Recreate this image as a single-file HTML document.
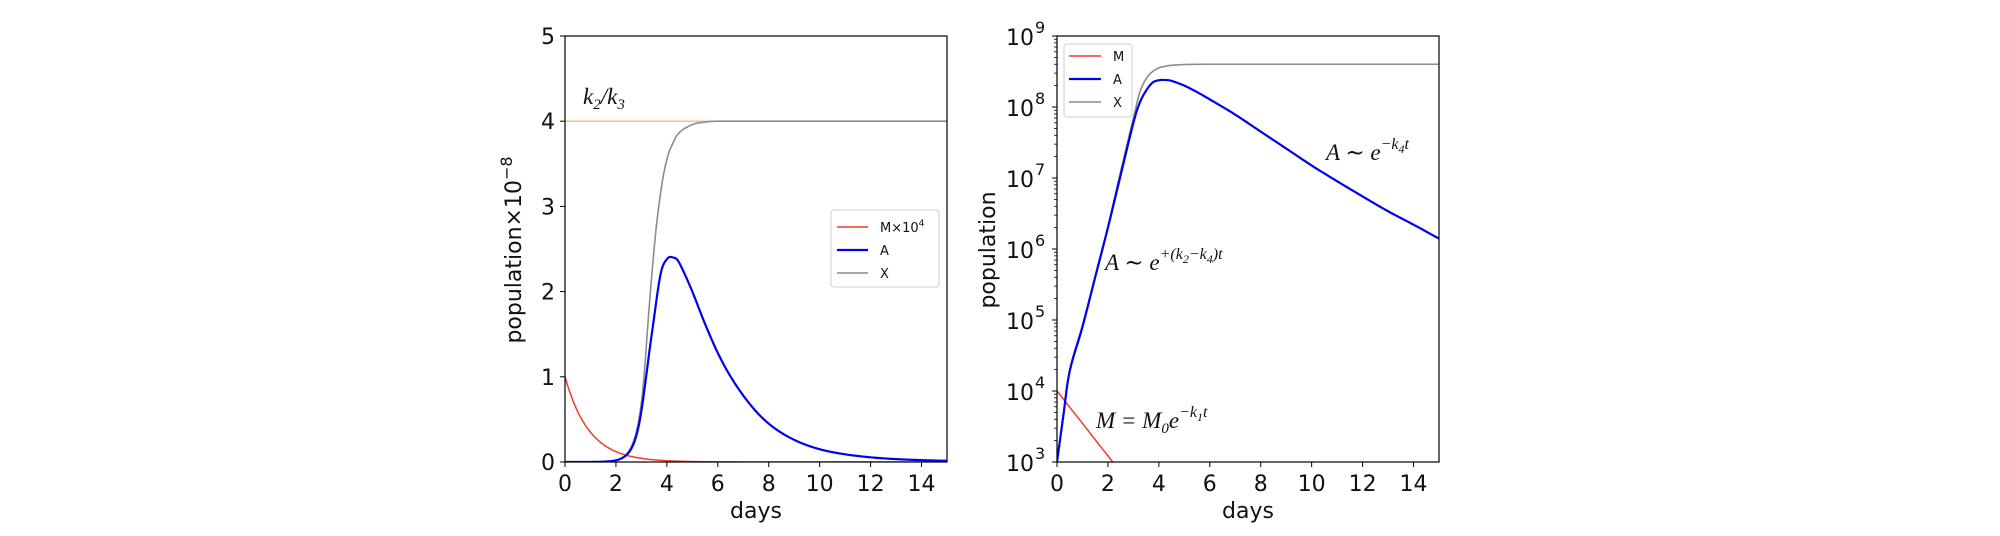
<!DOCTYPE html>
<html><head><meta charset="utf-8">
<style>
html,body{margin:0;padding:0;background:#fff;width:2000px;height:536px;overflow:hidden;}
svg{display:block;}
text{font-family:"DejaVu Sans","Liberation Sans",sans-serif;fill:#111;}
.tk{font-size:22px;}
.mt{font-family:"Liberation Serif","DejaVu Serif",serif;font-style:italic;font-size:23px;}
.lg{font-size:13px;}
</style></head>
<body>
<svg id="chart" width="2000" height="536" viewBox="0 0 2000 536" style="position:absolute;left:0;top:0">
<defs>
<clipPath id="clipL"><rect x="565" y="36" width="382" height="426"/></clipPath>
<clipPath id="clipR"><rect x="1057" y="36" width="382" height="426"/></clipPath>
</defs>
<g id="left"></g>
<g id="right"></g>
</svg>
<script>
const days = [0,0.25,0.5,1,1.5,2,2.5,3,3.25,3.5,3.75,4,4.25,4.5,5,5.5,6,7,8,9,10,11,12,13,14,15];
const seriesA = [1e3,4.5e3,1.9e4,8e4,4e5,2e6,1.1e7,6e7,1.15e8,1.7e8,2.2e8,2.38e8,2.4e8,2.33e8,2.0e8,1.62e8,1.28e8,7.8e7,4.5e7,2.6e7,1.5e7,9e6,5.5e6,3.4e6,2.2e6,1.4e6];
const seriesX = [1e3,4.8e3,2e4,8.5e4,4.2e5,2.1e6,1.25e7,7e7,1.6e8,2.5e8,3.15e8,3.55e8,3.75e8,3.87e8,3.96e8,3.99e8,4e8,4e8,4e8,4e8,4e8,4e8,4e8,4e8,4e8,4e8];
const seriesM = [1e4,7.7e3,5.9e3,3.5e3,2.06e3,1.22e3,7.2e2,4.3e2,3.3e2,2.5e2,1.95e2,1.5e2,1.15e2,88,52,31,18,6.3,2.2,0.78,0.27,0.095,0.033,0.012,0.004,0.0014];
const plateau = 4;
const xTicks = [0,2,4,6,8,10,12,14];
const yTicksLin = [0,1,2,3,4,5];
const yTicksLog = [3,4,5,6,7,8,9];

const NS="http://www.w3.org/2000/svg";
function mk(tag,attrs,parent,txt){const e=document.createElementNS(NS,tag);for(const k in attrs)e.setAttribute(k,attrs[k]);if(txt!==undefined)e.textContent=txt;parent.appendChild(e);return e;}
const L=document.getElementById('left'), R=document.getElementById('right');
const yTop=36,bot=462;
const xL=t=>565+t/15*382, xR=t=>1057+t/15*382;
const yL=v=>bot-v/5*(bot-yTop);
const yR=v=>bot-(Math.log10(Math.max(v,Math.pow(10,2.95)))-3)/6*(bot-yTop);

function dense(vals){
  const P=days.map((t,i)=>[t,Math.log10(vals[i])]);
  const out=[];
  for(let i=0;i<P.length-1;i++){
    const p0=P[Math.max(i-1,0)],p1=P[i],p2=P[i+1],p3=P[Math.min(i+2,P.length-1)];
    const n=16;
    for(let j=0;j<n;j++){const s=j/n,s2=s*s,s3=s2*s;
      const f=(a,b,c,d)=>0.5*((2*b)+(-a+c)*s+(2*a-5*b+4*c-d)*s2+(-a+3*b-3*c+d)*s3);
      out.push([f(p0[0],p1[0],p2[0],p3[0]),Math.pow(10,f(p0[1],p1[1],p2[1],p3[1]))]);}
  }
  out.push([days[days.length-1],vals[vals.length-1]]);
  return out;
}
function pathOf(pts){return 'M'+pts.map(q=>q[0].toFixed(2)+','+q[1].toFixed(2)).join(' L');}

// ----- LEFT PANEL -----
const ln=mk('line',{x1:xL(0),x2:xL(15),y1:yL(plateau),y2:yL(plateau),stroke:'#f7c57c','stroke-width':1.5},L);


const gL=mk('g',{'clip-path':'url(#clipL)'},L);
function addLeft(vals,scale,color,w,name){
  const pts=dense(vals).map(p=>[xL(p[0]),yL(p[1]/scale)]);
  const p=mk('path',{d:pathOf(pts),fill:'none',stroke:color,'stroke-width':w,'stroke-linejoin':'round'},gL);
  
  
}
addLeft(seriesM,1e4,'#f03c2c',1.5,'line-m-left');
addLeft(seriesX,1e8,'#8c8c8c',1.6,'line-x-left');
addLeft(seriesA,1e8,'#0000ee',2.2,'line-a-left');
mk('rect',{x:565,y:yTop,width:382,height:bot-yTop,fill:'none',stroke:'#000','stroke-width':1.2},L);
xTicks.forEach(t=>{
  mk('line',{x1:xL(t),x2:xL(t),y1:bot,y2:bot+5,stroke:'#000'},L);
  const e=mk('text',{x:xL(t),y:bot+29,'text-anchor':'middle',class:'tk'},L,String(t));
  
  
});
yTicksLin.forEach(v=>{
  mk('line',{x1:560,x2:565,y1:yL(v),y2:yL(v),stroke:'#000'},L);
  const e=mk('text',{x:555,y:yL(v)+8,'text-anchor':'end',class:'tk'},L,String(v));
  
  
});
// ----- RIGHT PANEL -----
const gR=mk('g',{'clip-path':'url(#clipR)'},R);
function addRight(vals,color,w,name){
  const pts=dense(vals).map(p=>[xR(p[0]),yR(p[1])]);
  const p=mk('path',{d:pathOf(pts),fill:'none',stroke:color,'stroke-width':w,'stroke-linejoin':'round'},gR);
  
  
}
addRight(seriesM,'#f03c2c',1.5,'line-m-right');
addRight(seriesX,'#8c8c8c',1.6,'line-x-right');
addRight(seriesA,'#0000ee',2.2,'line-a-right');
mk('rect',{x:1057,y:yTop,width:382,height:bot-yTop,fill:'none',stroke:'#000','stroke-width':1.2},R);
xTicks.forEach(t=>{
  mk('line',{x1:xR(t),x2:xR(t),y1:bot,y2:bot+5,stroke:'#000'},R);
  const e=mk('text',{x:xR(t),y:bot+29,'text-anchor':'middle',class:'tk'},R,String(t));
  
  
});
yTicksLog.forEach(k=>{
  const y=yR(Math.pow(10,k));
  mk('line',{x1:1052,x2:1057,y1:y,y2:y,stroke:'#000'},R);
  if(k<9){for(let m=2;m<10;m++){const ym=yR(m*Math.pow(10,k));mk('line',{x1:1054,x2:1057,y1:ym,y2:ym,stroke:'#000','stroke-width':0.8},R);}}
  const e=mk('text',{x:1034,y:y+9,'text-anchor':'end',class:'tk'},R,'10');
  
  
  mk('text',{x:1035,y:y-3,'font-size':'16'},R,String(k));
});
</script>
<svg width="2000" height="536" viewBox="0 0 2000 536" style="position:absolute;left:0;top:0;pointer-events:none">
  <text class="tk" x="756" y="518" text-anchor="middle">days</text>
  <text class="tk" x="1248" y="518" text-anchor="middle">days</text>
  <text class="tk" transform="translate(521,250) rotate(-90)" text-anchor="middle">population×10<tspan dy="-9" font-size="16">−8</tspan></text>
  <text class="tk" transform="translate(995,250) rotate(-90)" text-anchor="middle">population</text>
  <text class="mt" x="583" y="104">k<tspan font-size="15" dy="5">2</tspan><tspan dy="-5">/k</tspan><tspan font-size="15" dy="5">3</tspan></text>
  <text class="mt" x="1326" y="160">A ∼ e<tspan font-size="16" dy="-11">−k</tspan><tspan font-size="12" dy="4">4</tspan><tspan font-size="16" dy="-4">t</tspan></text>
  <text class="mt" x="1105" y="270">A ∼ e<tspan font-size="16" dy="-11">+(k</tspan><tspan font-size="12" dy="4">2</tspan><tspan font-size="16" dy="-4">−k</tspan><tspan font-size="12" dy="4">4</tspan><tspan font-size="16" dy="-4">)t</tspan></text>
  <text class="mt" x="1096" y="428">M = M<tspan font-size="15" dy="5">0</tspan><tspan dy="-5">e</tspan><tspan font-size="16" dy="-11">−k</tspan><tspan font-size="12" dy="4">1</tspan><tspan font-size="16" dy="-4">t</tspan></text>
  <g>
    <rect x="831" y="210" width="108" height="77" rx="3" fill="#fff" fill-opacity="0.8" stroke="#ccc"/>
    <line x1="837" x2="868" y1="227" y2="227" stroke="#f03c2c" stroke-width="1.5"/>
    <text class="lg" x="880" y="232">M×10<tspan dy="-6" font-size="9">4</tspan></text>
    <line x1="837" x2="868" y1="250" y2="250" stroke="#0000ee" stroke-width="2.2"/>
    <text class="lg" x="880" y="255">A</text>
    <line x1="837" x2="868" y1="273" y2="273" stroke="#8c8c8c" stroke-width="1.5"/>
    <text class="lg" x="880" y="278">X</text>
  </g>
  <g>
    <rect x="1064" y="44" width="68" height="73" rx="3" fill="#fff" fill-opacity="0.8" stroke="#ccc"/>
    <line x1="1069" x2="1101" y1="56" y2="56" stroke="#f03c2c" stroke-width="1.5"/>
    <text class="lg" x="1113" y="61">M</text>
    <line x1="1069" x2="1101" y1="79" y2="79" stroke="#0000ee" stroke-width="2.2"/>
    <text class="lg" x="1113" y="84">A</text>
    <line x1="1069" x2="1101" y1="102" y2="102" stroke="#8c8c8c" stroke-width="1.5"/>
    <text class="lg" x="1113" y="107">X</text>
  </g>
</svg>
</body></html>
